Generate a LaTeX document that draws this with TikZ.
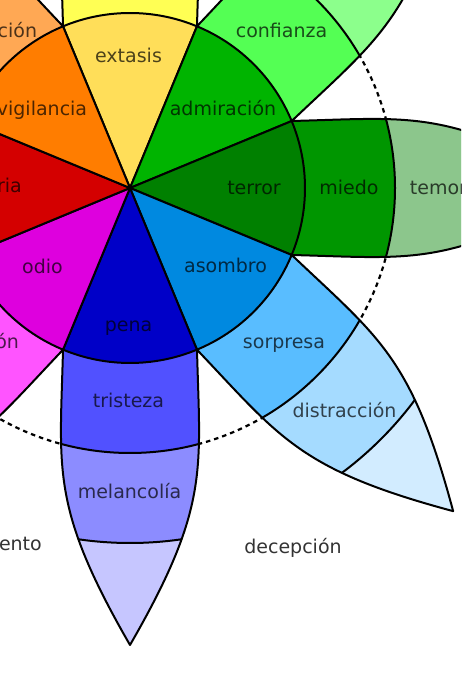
\documentclass[tikz,border=0pt]{standalone}
\usepackage{fontspec}
\setmainfont{DejaVu Sans}
\definecolor{cExt}{HTML}{FFDE59}
\definecolor{cAdm}{HTML}{00B400}
\definecolor{cTer}{HTML}{008000}
\definecolor{cAso}{HTML}{0089E0}
\definecolor{cPen}{HTML}{0000C8}
\definecolor{cOdi}{HTML}{DE00DE}
\definecolor{cFur}{HTML}{D40000}
\definecolor{cVig}{HTML}{FF7D00}
\definecolor{mAle}{HTML}{FFFF54}\definecolor{oAle}{HTML}{FFFFB1}\definecolor{tAle}{HTML}{FFFFE0}
\definecolor{mCon}{HTML}{54FF54}\definecolor{oCon}{HTML}{8CFF8C}\definecolor{tCon}{HTML}{C6FFC6}
\definecolor{mMie}{HTML}{009600}\definecolor{oMie}{HTML}{8CC68C}\definecolor{tMie}{HTML}{C6E2C6}
\definecolor{mSor}{HTML}{59BDFF}\definecolor{oSor}{HTML}{A5DBFF}\definecolor{tSor}{HTML}{D2ECFF}
\definecolor{mTri}{HTML}{5151FF}\definecolor{oTri}{HTML}{8C8CFF}\definecolor{tTri}{HTML}{C6C6FF}
\definecolor{mAve}{HTML}{FF54FF}\definecolor{oAve}{HTML}{FFA8FF}\definecolor{tAve}{HTML}{FFD4FF}
\definecolor{mIra}{HTML}{FF0000}\definecolor{oIra}{HTML}{FF8C8C}\definecolor{tIra}{HTML}{FFC6C6}
\definecolor{mAnt}{HTML}{FFA854}\definecolor{oAnt}{HTML}{FFC48C}\definecolor{tAnt}{HTML}{FFE2C6}
\newcommand\petalpath{(161.7,67) .. controls (282,70) and (318.4,80) .. (457,0) .. controls (318.4,-80) and (282,-70) .. (161.7,-67) -- cycle}
\newcommand\wheelpetal[4]{%
  \begin{scope}[shift={(C)}, rotate=#1]
    \begin{scope}
      \clip \petalpath;
      \fill[#4] (-500,-500) rectangle (500,500);
      \fill[#3] (0,0) circle (355);
      \fill[#2] (0,0) circle (265);
      \draw[lw] (0,0) circle (355) (0,0) circle (265);
    \end{scope}
    \draw[lw] \petalpath;
  \end{scope}}
\newcommand\wheelsector[2]{%
  \filldraw[lw, fill=#2] (C) -- ++(#1-22.5:175) arc[start angle=#1-22.5, end angle=#1+22.5, radius=175] -- cycle;}
\begin{document}
\begin{tikzpicture}[x=1pt,y=1pt,
  lw/.style={line width=2pt, line join=round},
  lab/.style={font=\fontsize{19}{22}\selectfont, text=black, text opacity=0.7, inner sep=0pt, anchor=base},
  comb/.style={font=\fontsize{19}{22}\selectfont, text=black!80, inner sep=0pt, anchor=base}]
\useasboundingbox (0,0) rectangle (461,674);
\clip (0,0) rectangle (461,674);
\coordinate (C) at (130,486);
\draw[line width=2.2pt, dash pattern=on 4.5pt off 4pt] (C) circle (265);
\wheelpetal{90}{mAle}{oAle}{tAle}
\wheelpetal{45}{mCon}{oCon}{tCon}
\wheelpetal{0}{mMie}{oMie}{tMie}
\wheelpetal{-45}{mSor}{oSor}{tSor}
\wheelpetal{-90}{mTri}{oTri}{tTri}
\wheelpetal{-135}{mAve}{oAve}{tAve}
\wheelpetal{180}{mIra}{oIra}{tIra}
\wheelpetal{135}{mAnt}{oAnt}{tAnt}
\wheelsector{90}{cExt}
\wheelsector{45}{cAdm}
\wheelsector{0}{cTer}
\wheelsector{-45}{cAso}
\wheelsector{-90}{cPen}
\wheelsector{-135}{cOdi}
\wheelsector{180}{cFur}
\wheelsector{135}{cVig}
% inner labels
\node[lab] (extasis) at (128.5,611.5) {extasis};
\node[lab] (admiracion) at (223,558.5) {admiración};
\node[lab] (vigilancia) at (42,558.5) {vigilancia};
\node[lab] (terror) at (254,479.5) {terror};
\node[lab] (asombro) at (225.5,401.5) {asombro};
\node[lab] (pena) at (128.5,342.5) {pena};
\node[lab] (odio) at (42.5,400.5) {odio};
\node[lab] (furia) at (0,481.5) {furia};
% petal labels
\node[lab] (confianza) at (281.5,636.5) {confianza};
\node[lab] (miedo) at (349,479.5) {miedo};
\node[lab] (temor) at (438.5,479.5) {temor};
\node[lab] (sorpresa) at (284,325.5) {sorpresa};
\node[lab] (distraccion) at (344.5,256.5) {distracción};
\node[lab] (tristeza) at (128.5,266.5) {tristeza};
\node[lab] (melancolia) at (129.5,175.5) {melancolía};
\node[lab] (aversion) at (-21.6,325.5) {aversión};
\node[lab] (anticipacion) at (-20.6,636.5) {anticipación};
% combination labels
\node[comb] (decepcion) at (293,120.5) {decepción};
\node[comb] (remordimiento) at (-28.5,123.5) {remordimiento};
\end{tikzpicture}
\end{document}
